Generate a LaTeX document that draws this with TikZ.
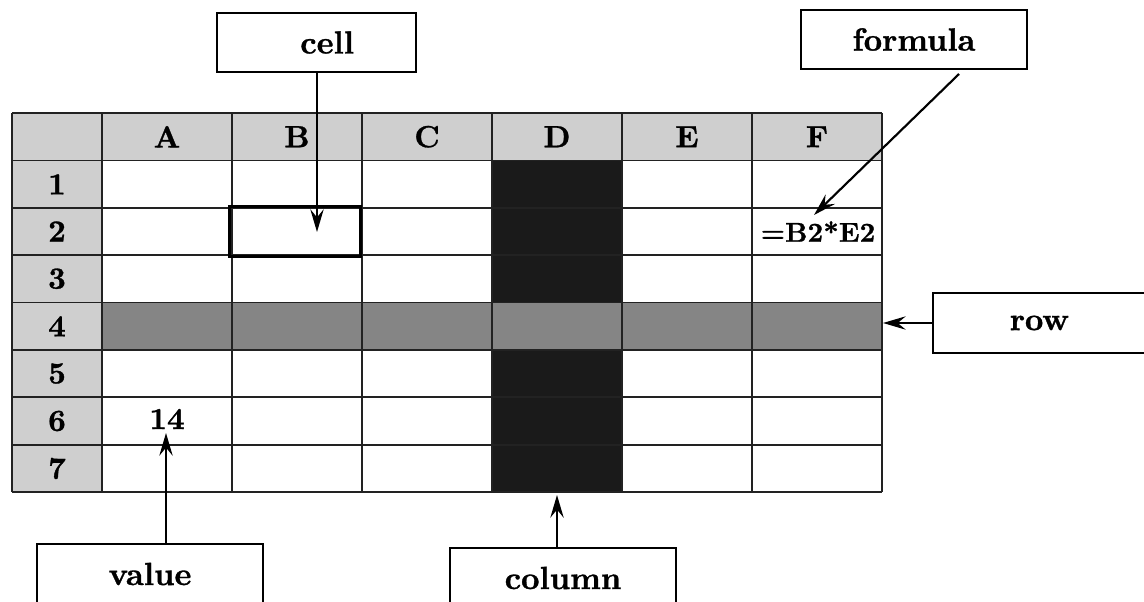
\documentclass[tikz,border=0pt]{standalone}
\usepackage{fontspec}
\newfontfamily\heavyfont{lmroman10-bold}[Extension=.otf, FakeBold=1]
\usetikzlibrary{arrows.meta,calc}
\definecolor{hdr}{HTML}{CFCFCF}
\definecolor{rowg}{HTML}{858585}
\definecolor{cold}{HTML}{1A1A1A}
\definecolor{gridc}{HTML}{222222}
\begin{document}
\begin{tikzpicture}[x=0.75pt,y=-0.75pt,
  tbl/.style={font=\heavyfont\fontsize{23}{26}\selectfont, inner sep=0pt},
  lbl/.style={draw=black, line width=0.8pt, fill=white, minimum width=226*0.75pt, minimum height=59*0.75pt, inner sep=0pt, font=\heavyfont\fontsize{24}{28}\selectfont},
  arr/.style={line width=1.6pt, -{Stealth[length=17pt,width=10pt,inset=6pt]}},
  gridln/.style={draw=gridc, line width=0.9pt}]
\useasboundingbox (0,0) rectangle (1144,602);
\clip (0,0) rectangle (1144,602);
% fills
\fill[hdr] (12,113) rectangle (882,160.5);
\fill[hdr] (12,113) rectangle (102,492);
\fill[cold] (492,160.5) rectangle (622,492);
\fill[rowg] (102,302.5) rectangle (882,350);
% grid
\foreach \x in {12,102,232,362,492,622,752,882} \draw[gridln] (\x,113) -- (\x,492);
\foreach \y in {113,160.5,208,255,302.5,350,397,445,492} \draw[gridln] (12,\y) -- (882,\y);
% selected cell B2
\draw[line width=2.2pt] (229.5,206.5) rectangle (360.5,256.5);
% headers
\foreach \t/\x in {A/167,B/297,C/427,D/557,E/687,F/817} \node[tbl] (h\t) at (\x,136.75) {\t};
\foreach \t/\y in {1/184.25,2/231.5,3/278.75,4/326.25,5/373.5,6/421,7/468.5} \node[tbl] (r\t) at (57,\y) {\t};
\node[tbl] (v14) at (167,419) {14};
\node[tbl, font=\heavyfont\fontsize{20.5}{24}\selectfont] (fml) at (818,231.5) {=B2*E2};
% labels
\node[lbl, minimum width=199*0.75pt] (cell) at (316.5,42.5) {\hspace*{16pt}cell};
\node[lbl] (formula) at (914,39.5) {formula};
\node[lbl, minimum height=60*0.75pt] (row) at (1046,323) {\hspace*{-10pt}row};
\node[lbl, minimum height=60*0.75pt] (value) at (150,574) {value};
\node[lbl, minimum height=60*0.75pt] (column) at (563,578) {column};
% arrow endpoints
\coordinate (celltip) at (317,232);
\coordinate (fstart) at (959,74);
\coordinate (ftip) at (814,215);
\coordinate (rowtip) at (883,323);
\coordinate (vstart) at (166,544);
\coordinate (vtip) at (166,433);
\coordinate (cstart) at (557,548);
\coordinate (ctip) at (557,495);
% arrows
\draw[arr] (cell.south -| celltip) -- (celltip);
\draw[arr] (fstart) -- (ftip);
\draw[arr] (row.west) -- (rowtip);
\draw[arr] (vstart) -- (vtip);
\draw[arr] (cstart) -- (ctip);
\end{tikzpicture}
\end{document}
